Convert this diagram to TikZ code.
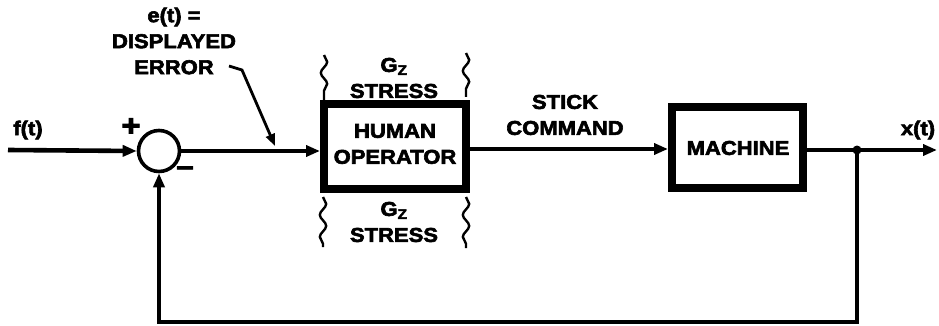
\documentclass[tikz,border=0pt]{standalone}
\usepackage{fontspec}
\setmainfont[FakeStretch=1.1,FakeBold=3]{Liberation Sans Bold}
\usetikzlibrary{arrows.meta,decorations.pathmorphing}
\begin{document}
\begin{tikzpicture}[x=1pt,y=-1pt,
  txt/.style={font=\fontsize{20}{26}\selectfont, inner sep=0pt, align=center},
  sig/.style={line width=4.6pt},
  arr/.style={sig, -{Triangle[length=14pt,width=11pt]}},
  blk/.style={draw, line width=8pt, inner sep=0pt},
  wave/.style={line width=2.4pt, decorate,
    decoration={snake, segment length=22pt, amplitude=3.2pt}}]
\useasboundingbox (0,0) rectangle (939,326);

% summing junction and blocks
\node[draw, circle, line width=3.6pt, minimum size=41pt, inner sep=0pt] (sum) at (159,151) {};
\node[blk, minimum width=142pt, minimum height=85pt] (hum) at (395,146.5) {};
\node[txt] (humtxt) at (395,144) {HUMAN\\OPERATOR};
\node[blk, minimum width=131pt, minimum height=81pt] (mach) at (737.5,147.5) {};
\node[txt] (machtxt) at (738,148) {MACHINE};

% signal points
\coordinate (in) at (8,150);
\coordinate (jn) at (857,150);
\coordinate (out) at (937,150);
\coordinate (br) at (857,322);
\coordinate (bl) at (159,322);

% forward path
\draw[arr] (in) -- (sum.west);
\draw[arr] (sum.east) -- (hum.west |- sum.east);
\draw[arr] (hum.east |- 0,149) -- (mach.west |- 0,149);
\draw[arr] (mach.east |- jn) -- (out);
\fill (jn) circle (4.5pt);

% feedback path
\draw[sig, line join=miter] (jn) -- (br) -- (bl) -- ++(0,-2);
\draw[arr] (bl) -- (sum.south);

% signal labels
\node[txt] (ft) at (28,130) {f(t)};
\node[txt] (xt) at (918,130) {x(t)};
\node[txt, font=\fontsize{30}{30}\selectfont] (plus) at (131,127) {+};
\node[txt, font=\fontsize{28}{28}\selectfont] (minus) at (185,171) {\textendash};
\node[txt] (err) at (174,41) {e(t) =\\DISPLAYED\\ERROR};
\node[txt] (stick) at (565,115) {STICK\\COMMAND};

% pointer from the error label to the error signal
\coordinate (hk) at (229,66);
\draw[line width=2.8pt, -{Triangle[length=12pt,width=9pt]}]
  (hk) -- (242,70) -- (275,146);

% G_z stress notes around the operator
\node[txt] (gzt) at (394,78) {G\textsubscript{Z}\\STRESS};
\node[txt] (gzb) at (394,222) {G\textsubscript{Z}\\STRESS};
\draw[wave] (324,55) -- (324,100);
\draw[wave] (466,53) -- (466,97);
\draw[wave] (323,197) -- (323,247);
\draw[wave] (466,197) -- (466,248);
\end{tikzpicture}
\end{document}
